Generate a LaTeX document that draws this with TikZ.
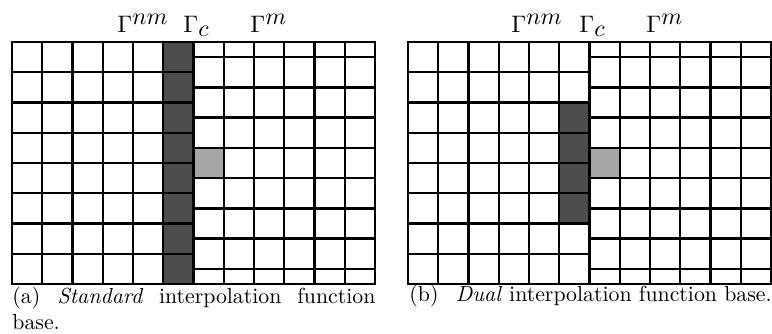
\documentclass[tikz,border=0pt]{standalone}
\usepackage{tikz}
\definecolor{darkcell}{HTML}{4D4D4D}
\definecolor{lightcell}{HTML}{A6A6A6}
\newcommand{\cellsz}{30.25}
\newcommand{\drawgridpanel}[1]{%
  % left block (Gamma^nm)
  \foreach \i in {0,...,6}{\draw[gridline] ({#1+\i*\cellsz},42) -- ({#1+\i*\cellsz},{42+8*\cellsz});}
  \foreach \k in {0,...,8}{\draw[gridline] (#1,{42+\k*\cellsz}) -- ({#1+6*\cellsz},{42+\k*\cellsz});}
  % right block (Gamma^m), rows shifted by half a cell
  \foreach \j in {1,...,6}{\draw[gridline] ({#1+(6+\j)*\cellsz},42) -- ({#1+(6+\j)*\cellsz},{42+8*\cellsz});}
  \draw[gridline] ({#1+6*\cellsz},42) -- ({#1+12*\cellsz},42);
  \draw[gridline] ({#1+6*\cellsz},{42+8*\cellsz}) -- ({#1+12*\cellsz},{42+8*\cellsz});
  \foreach \k in {0,...,7}{\draw[gridline] ({#1+6*\cellsz},{42+0.5*\cellsz+\k*\cellsz}) -- ({#1+12*\cellsz},{42+0.5*\cellsz+\k*\cellsz});}
}
\tikzset{
  gridline/.style={line width=1.1pt, line cap=rect, black},
  darkfill/.style={fill=darkcell, draw=none},
  lightfill/.style={fill=lightcell, draw=none},
  gammalabel/.style={inner sep=0pt, anchor=base west, font=\fontsize{10.5}{12}\selectfont},
  captext/.style={inner sep=0pt, anchor=base west, font=\normalsize}
}
\begin{document}
\begin{tikzpicture}[x=0.4587pt, y=-0.4587pt]
\useasboundingbox (0,0) rectangle (772,334);
% ---------- panel (a) ----------
\fill[darkfill] ({12+5*\cellsz},42) rectangle ({12+6*\cellsz},{42+8*\cellsz});
\fill[lightfill] ({12+6*\cellsz},{42+3.5*\cellsz}) rectangle ({12+7*\cellsz},{42+4.5*\cellsz});
\drawgridpanel{12}
\node[gammalabel] (anm) at (117,33) {$\Gamma^{\textstyle nm}$};
\node[gammalabel] (ac) at (183,33) {$\Gamma_{\textstyle c}$};
\node[gammalabel] (am) at (250,33) {$\Gamma^{\textstyle m}$};
\node[inner sep=0pt, anchor=north west, text width={363*0.4587pt}, align=justify] (capa) at (12,287)
  {(a)\hspace{8pt}\textit{Standard} interpolation function\linebreak base.};
% ---------- panel (b) ----------
\fill[darkfill] ({408+5*\cellsz},{42+2*\cellsz}) rectangle ({408+6*\cellsz},{42+6*\cellsz});
\fill[lightfill] ({408+6*\cellsz},{42+3.5*\cellsz}) rectangle ({408+7*\cellsz},{42+4.5*\cellsz});
\drawgridpanel{408}
\node[gammalabel] (bnm) at (511,33) {$\Gamma^{\textstyle nm}$};
\node[gammalabel] (bc) at (579,33) {$\Gamma_{\textstyle c}$};
\node[gammalabel] (bm) at (646,33) {$\Gamma^{\textstyle m}$};
\node[captext] (capb) at (409,302) {(b)\hspace{8pt}\textit{Dual} interpolation function base.};
\end{tikzpicture}
\end{document}
